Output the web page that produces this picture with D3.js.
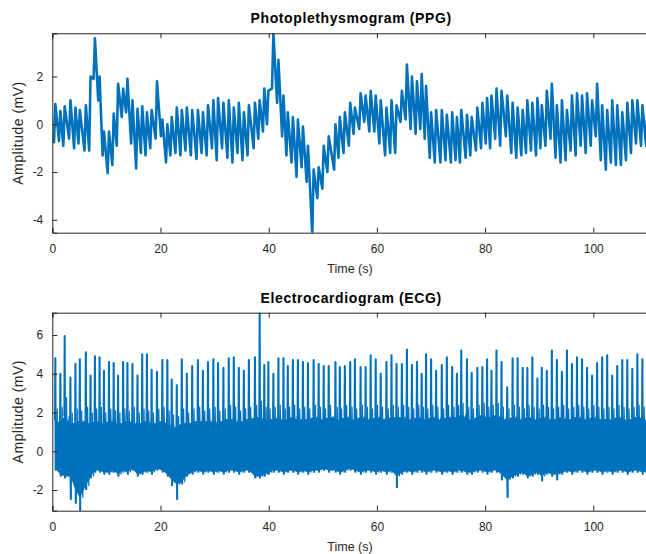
<!DOCTYPE html>
<html><head><meta charset="utf-8">
<script src="https://cdn.jsdelivr.net/npm/d3@7"></script>
<style>
html,body{margin:0;padding:0;background:#fff;}
svg text{font-family:"Liberation Sans",Arial,Helvetica,sans-serif;}
</style></head>
<body><svg id="chart" width="646" height="554"></svg>
<script>
// ---- data ----
const beatTime = [0.56,1.49,2.29,3.35,4.28,5.09,6.20,7.07,7.88,8.74,
 9.55,10.48,11.35,12.16,13.09,13.89,14.82,15.75,16.62,17.49,
 18.36,19.35,20.34,21.27,22.08,23.01,23.94,24.87,25.86,26.91,
 27.84,28.78,29.77,30.64,31.63,32.62,33.55,34.48,35.41,36.34,
 37.46,38.33,39.19,39.94,40.87,41.80,42.73,43.53,44.47,45.40,
 46.33,47.26,48.31,49.24,50.17,51.10,52.34,53.15,54.08,55.07,
 55.94,56.99,57.92,58.85,59.78,60.71,61.77,62.70,63.63,64.62,
 65.55,66.48,67.41,68.28,69.09,70.02,70.95,72.00,72.93,73.92,
 74.79,75.60,76.65,77.52,78.57,79.50,80.37,81.18,82.11,83.04,
 84.09,85.09,86.02,86.95,87.81,88.74,89.67,90.48,91.41,92.34,
 93.27,94.20,95.13,96.06,96.99,97.92,98.85,99.78,100.71,101.64,
 102.57,103.50,104.43,105.36,106.29,107.22,108.15,109.08,110.02];

const ppgPeak = [0.85,0.55,0.75,1.0,0.7,0.6,0.8,2.0,3.6,2.0,
 -0.3,-0.3,0.45,1.7,1.5,1.9,1.0,0.65,0.75,0.5,
 0.6,1.8,0.2,0.0,0.3,0.7,0.6,0.7,0.6,0.6,
 0.5,0.8,1.0,1.1,0.9,1.0,0.7,0.9,0.5,0.8,
 0.9,1.0,1.5,1.4,3.8,2.7,1.2,0.5,0.3,0.2,
 -0.1,-0.9,-1.9,-1.8,-0.9,-0.5,0.0,0.3,0.5,0.9,
 0.7,1.3,1.2,1.4,1.2,1.0,0.7,1.0,0.8,1.4,
 2.5,2.0,1.8,2.1,1.6,0.5,0.6,0.6,0.4,0.5,
 0.3,0.6,0.4,0.3,0.7,0.9,1.1,1.2,1.5,1.4,
 1.2,0.9,0.7,0.6,1.0,0.9,1.1,0.8,1.4,1.7,
 0.8,1.0,0.6,1.2,1.3,1.2,1.3,1.0,1.7,0.8,
 0.6,1.0,0.8,0.5,0.9,1.0,1.0,0.8,0.7];

const ppgTrough = [-0.8,-0.7,-0.9,-0.6,-1.0,-0.8,-1.1,-1.1,1.9,1.0,
 -1.3,-2.05,-1.7,-0.9,0.3,0.5,-0.8,-1.85,-1.2,-1.3,
 -1.0,-0.6,-0.5,-1.6,-1.3,-1.2,-1.3,-1.1,-1.3,-1.45,
 -1.2,-1.3,-1.0,-1.5,-1.0,-1.4,-1.6,-1.2,-1.5,-1.3,
 -1.0,-0.6,-0.3,0.0,1.5,0.9,-0.5,-1.3,-1.6,-2.2,
 -1.8,-2.4,-4.6,-3.1,-2.7,-2.0,-1.9,-1.4,-1.2,-0.9,
 -0.4,-0.2,0.1,-0.3,-0.3,-0.8,-1.3,-1.2,-1.2,0.1,
 0.2,-0.2,-0.4,-0.2,-0.6,-1.4,-1.6,-1.6,-1.5,-1.6,
 -1.5,-1.6,-1.4,-1.3,-1.1,-1.0,-0.8,-1.0,-0.6,-0.9,
 -0.5,-1.2,-1.4,-1.3,-1.2,-1.1,-1.3,-1.0,-0.9,-0.6,
 -1.4,-1.6,-1.5,-1.1,-1.3,-0.9,-1.2,-0.9,-0.5,-1.5,
 -1.9,-1.6,-1.7,-1.7,-1.5,-1.2,-0.8,-0.9,-0.9];

const ecgR = [4.8,4.0,5.95,3.8,4.5,4.75,5.1,3.9,4.9,4.85,
 4.15,4.6,4.55,3.9,4.6,4.55,4.5,3.9,5.0,5.0,
 4.2,4.1,4.7,4.7,3.7,3.4,4.75,4.0,4.4,4.7,
 4.15,4.6,4.75,4.55,4.3,4.8,4.85,4.3,4.15,4.7,
 4.85,7.3,4.45,4.6,4.0,4.8,4.8,4.4,4.7,4.7,
 4.6,4.55,4.7,4.5,4.4,4.4,
 4.6,4.35,4.4,4.6,4.75,4.35,4.35,4.95,4.75,4.0,
 4.6,4.95,4.5,4.5,5.25,4.45,4.6,4.0,5.0,4.75,
 4.15,4.45,4.85,4.35,4.0,5.2,4.75,4.05,4.3,4.35,
 4.75,4.15,5.2,4.6,3.3,4.8,4.8,4.3,4.3,4.85,
 3.75,4.3,4.15,5.2,4.7,4.1,5.2,4.5,4.85,4.75,
 4.3,3.9,4.55,4.85,4.95,3.9,4.4,4.7,4.7,4.25,
 5.0,4.75,4.8];

const ecgS = [-1.0,-1.3,-1.4,-2.5,-2.7,-3.1,-2.0,-1.4,-1.1,-1.1,
 -1.2,-1.2,-1.1,-1.3,-1.1,-1.2,-1.0,-1.3,-1.2,-1.1,
 -1.2,-1.0,-1.1,-1.3,-1.8,-2.5,-1.7,-1.3,-1.2,-1.1,
 -1.2,-1.1,-1.2,-1.1,-1.2,-1.1,-1.1,-1.2,-1.1,-1.1,
 -1.4,-1.4,-1.3,-1.2,-1.1,-1.1,-1.2,-1.1,-1.1,-1.2,
 -1.1,-1.2,-1.1,-1.1,-1.0,-1.1,-1.1,-1.2,-1.1,-1.0,
 -1.1,-1.2,-1.1,-1.1,-1.2,-1.1,-1.2,-1.1,-1.9,-1.2,
 -1.1,-1.2,-1.1,-1.1,-1.2,-1.1,-1.1,-1.2,-1.1,-1.2,
 -1.1,-1.1,-1.2,-1.2,-1.1,-1.1,-1.2,-1.1,-1.1,-1.5,
 -2.4,-1.4,-1.3,-1.2,-1.4,-1.3,-1.2,-1.55,-1.2,-1.3,
 -1.5,-1.2,-1.1,-1.2,-1.1,-1.1,-1.2,-1.1,-1.1,-1.2,
 -1.1,-1.2,-1.1,-1.1,-1.2,-1.1,-1.1,-1.2,-1.1];

// upper edge of the noisy band (T-wave / noise tops)
const ecgHi = [2.2,2.3,2.8,2.0,2.2,2.1,2.3,2.0,2.2,2.3,
 2.0,2.2,2.1,2.0,2.2,2.1,2.3,2.0,2.2,2.1,
 2.0,2.2,2.3,2.1,1.9,1.8,2.2,2.0,2.2,2.3,
 2.1,2.2,2.3,2.1,2.2,2.4,2.3,2.1,2.2,2.3,
 2.4,2.6,2.3,2.2,2.3,2.4,2.2,2.3,2.4,2.2,
 2.3,2.2,2.4,2.3,2.2,2.4,2.3,2.2,2.4,2.3,
 2.2,2.4,2.3,2.2,2.4,2.3,2.2,2.4,2.3,2.4,
 2.3,2.2,2.4,2.3,2.2,2.4,2.3,2.2,2.4,2.3,
 2.4,2.5,2.3,2.2,2.4,2.5,2.3,2.4,2.5,2.3,
 2.2,2.4,2.3,2.2,2.4,2.3,2.2,2.4,2.3,2.2,
 2.3,2.4,2.2,2.3,2.4,2.3,2.2,2.4,2.3,2.2,
 2.3,2.2,2.4,2.3,2.2,2.3,2.4,2.3,2.2];

// top of the solid core of the band
const ecgMid = [1.6,1.5,1.8,1.4,1.5,1.6,1.5,1.4,1.6,1.5,
 1.4,1.6,1.5,1.4,1.5,1.6,1.5,1.4,1.5,1.6,
 1.4,1.5,1.6,1.4,1.3,1.2,1.5,1.4,1.5,1.6,
 1.5,1.6,1.5,1.5,1.6,1.7,1.6,1.5,1.6,1.7,
 1.7,1.8,1.6,1.6,1.7,1.7,1.6,1.7,1.8,1.6,
 1.7,1.6,1.8,1.7,1.6,1.8,1.7,1.6,1.8,1.7,
 1.6,1.8,1.7,1.6,1.8,1.7,1.6,1.8,1.7,1.8,
 1.7,1.6,1.8,1.7,1.6,1.8,1.7,1.6,1.8,1.7,
 1.8,1.9,1.7,1.6,1.8,1.9,1.7,1.8,1.9,1.7,
 1.6,1.8,1.7,1.6,1.8,1.7,1.6,1.8,1.7,1.6,
 1.7,1.8,1.6,1.7,1.8,1.7,1.6,1.8,1.7,1.6,
 1.7,1.6,1.8,1.7,1.6,1.7,1.8,1.7,1.6];

const ecgLo = [-0.9,-1.2,-1.3,-1.3,-2.0,-2.4,-1.8,-1.3,-1.0,-1.0,
 -1.1,-1.1,-1.0,-1.2,-1.0,-1.1,-0.9,-1.2,-1.1,-1.0,
 -1.1,-0.9,-1.0,-1.2,-1.5,-1.7,-1.6,-1.2,-1.1,-1.0,
 -1.1,-1.0,-1.1,-1.0,-1.1,-1.0,-1.0,-1.1,-1.0,-1.0,
 -1.3,-1.3,-1.2,-1.1,-1.0,-1.0,-1.1,-1.0,-1.0,-1.1,
 -1.0,-1.1,-1.0,-1.0,-0.9,-1.0,-1.0,-1.1,-1.0,-0.9,
 -1.0,-1.1,-1.0,-1.0,-1.1,-1.0,-1.1,-1.0,-1.3,-1.1,
 -1.0,-1.1,-1.0,-1.0,-1.1,-1.0,-1.0,-1.1,-1.0,-1.1,
 -1.0,-1.0,-1.1,-1.1,-1.0,-1.0,-1.1,-1.0,-1.0,-1.2,
 -1.5,-1.3,-1.2,-1.1,-1.3,-1.2,-1.1,-1.3,-1.1,-1.2,
 -1.2,-1.1,-1.0,-1.1,-1.0,-1.0,-1.1,-1.0,-1.0,-1.1,
 -1.0,-1.1,-1.0,-1.0,-1.1,-1.0,-1.0,-1.1,-1.0];

const xTicks = [0,20,40,60,80,100];
const ppgYTicks = [-4,-2,0,2];
const ecgYTicks = [-2,0,2,4,6];
const xDomain = [0,110.3];
const ppgDomain = [-4.54,3.81];
const ecgDomain = [-3.07,7.15];

// ---- drawing ----
const BLUE = "#0072BD", AX = "#262626";
const svg = d3.select("#chart");
const x = d3.scaleLinear().domain(xDomain).range([52.3,649]);

function panel(id, yDomain, yTop, yBot, yTicks, title, titleY, xlabY){
  const y = d3.scaleLinear().domain(yDomain).range([yBot,yTop]);
  const g = svg.append("g");
  g.append("clipPath").attr("id","clip"+id).append("rect")
    .attr("x",x.range()[0]).attr("y",yTop).attr("width",x.range()[1]-x.range()[0]).attr("height",yBot-yTop);
  const plot = g.append("g").attr("clip-path","url(#clip"+id+")");
  const fmt = d => d;
  const ax = g.append("g").attr("transform",`translate(0,${yBot})`)
    .call(d3.axisBottom(x).tickValues(xTicks).tickSize(-5).tickPadding(12).tickFormat(fmt));
  const axT = g.append("g").attr("transform",`translate(0,${yTop})`)
    .call(d3.axisTop(x).tickValues(xTicks).tickSize(-5).tickFormat(""));
  const ay = g.append("g").attr("transform",`translate(${x.range()[0]},0)`)
    .call(d3.axisLeft(y).tickValues(yTicks).tickSize(-5).tickPadding(9).tickFormat(fmt));
  [ax,axT,ay].forEach(a=>{
    a.selectAll("path.domain").attr("stroke",AX).attr("stroke-width",1);
    a.selectAll(".tick line").attr("stroke",AX).attr("stroke-width",1);
    a.selectAll(".tick text").attr("fill",AX).attr("font-size","12px")
      .attr("font-family","'Liberation Sans',Arial,sans-serif");
  });
  g.append("text").attr("x",(x.range()[0]+646)/2+2).attr("y",titleY)
    .attr("text-anchor","middle").attr("font-weight","bold").attr("font-size","14px")
    .attr("letter-spacing","0.6px").attr("fill","#000").text(title);
  g.append("text").attr("x",350).attr("y",xlabY).attr("text-anchor","middle")
    .attr("font-size","12.5px").attr("fill",AX).text("Time (s)");
  g.append("text").attr("transform",`translate(23,${(yTop+yBot)/2}) rotate(-90)`)
    .attr("text-anchor","middle").attr("font-size","14px").attr("letter-spacing","0.5px")
    .attr("fill",AX).text("Amplitude (mV)");
  return {y, plot};
}

// PPG
const p1 = panel(1, ppgDomain, 33.3, 232.7, ppgYTicks, "Photoplethysmogram (PPG)", 23, 273);
const ppgPts = [];
beatTime.forEach((t,i)=>{ ppgPts.push([t-0.25, ppgTrough[i]]); ppgPts.push([t, ppgPeak[i]]); });
p1.plot.append("path").datum(ppgPts)
  .attr("fill","none").attr("stroke",BLUE).attr("stroke-width",2.6).attr("stroke-linejoin","round")
  .attr("d", d3.line().x(d=>x(d[0])).y(d=>p1.y(d[1])));

// ECG
const p2 = panel(2, ecgDomain, 312.7, 510.7, ecgYTicks, "Electrocardiogram (ECG)", 303, 551);
const band = beatTime.map((t,i)=>({t, mid:ecgMid[i], lo:ecgLo[i]}));
p2.plot.append("path").datum(band).attr("fill",BLUE)
  .attr("d", d3.area().x(d=>x(d.t)).y0(d=>p2.y(d.lo)).y1(d=>p2.y(d.mid)));
// noisy body of each beat
const bodyPts = [];
beatTime.forEach((t,i)=>{
  bodyPts.push([t+0.07, ecgS[i]]);
  bodyPts.push([t+0.33, ecgHi[i]]);
  bodyPts.push([t+0.55, ecgLo[i]]);
  bodyPts.push([t+0.8, ecgMid[i]]);
});
const ln = d3.line().x(d=>x(d[0])).y(d=>p2.y(d[1]));
p2.plot.append("path").datum(bodyPts)
  .attr("fill","none").attr("stroke",BLUE).attr("stroke-width",1.2)
  .attr("d", ln);
// QRS spikes
p2.plot.selectAll("path.spike").data(beatTime).join("path").attr("class","spike")
  .attr("fill","none").attr("stroke",BLUE).attr("stroke-width",2.1).attr("stroke-linejoin","round")
  .attr("d",(t,i)=>ln([[t-0.05, ecgMid[i]],[t, ecgR[i]],[t+0.07, ecgS[i]]]));
</script></body></html>
